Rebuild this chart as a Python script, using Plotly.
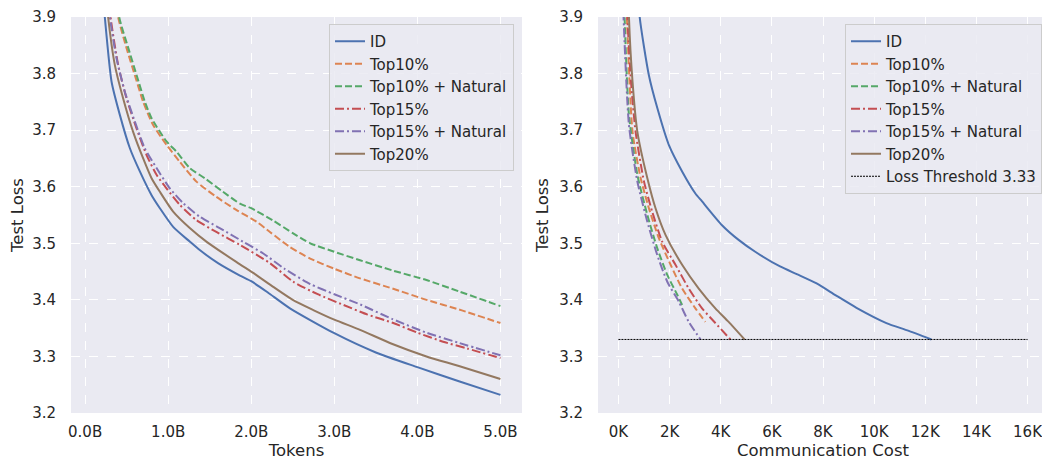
import plotly.graph_objects as go

# ---------------- data: left panel (loss vs tokens, B) ----------------
names = ["ID", "Top10%", "Top10% + Natural", "Top15%", "Top15% + Natural", "Top20%"]

id_tok_x = [0.19, 0.237, 0.318, 0.418, 0.539, 0.659, 0.80, 0.90, 1.06, 1.26, 1.38, 1.60, 1.864, 2.0, 2.2, 2.466, 3.0, 3.5, 4.0, 4.5, 5.0]
id_tok_y = [3.98, 3.90, 3.786, 3.727, 3.668, 3.627, 3.585, 3.562, 3.529, 3.503, 3.488, 3.465, 3.443, 3.433, 3.413, 3.385, 3.341, 3.307, 3.281, 3.256, 3.232]

t10_tok_x = [0.36, 0.398, 0.499, 0.599, 0.699, 0.819, 0.98, 1.14, 1.34, 1.58, 1.82, 2.065, 2.225, 2.45, 2.71, 3.0, 3.31, 3.7, 4.11, 4.5, 5.0]
t10_tok_y = [3.97, 3.90, 3.845, 3.797, 3.750, 3.709, 3.674, 3.644, 3.609, 3.582, 3.559, 3.538, 3.520, 3.495, 3.473, 3.455, 3.438, 3.420, 3.400, 3.383, 3.359]

t10n_tok_x = [0.37, 0.41, 0.52, 0.62, 0.72, 0.80, 0.98, 1.10, 1.26, 1.44, 1.66, 1.864, 2.0, 2.265, 2.5, 2.71, 3.0, 3.31, 3.7, 4.11, 4.5, 5.0]
t10n_tok_y = [3.97, 3.90, 3.845, 3.797, 3.750, 3.721, 3.680, 3.662, 3.633, 3.615, 3.591, 3.570, 3.562, 3.540, 3.518, 3.500, 3.485, 3.470, 3.452, 3.435, 3.415, 3.389]

t15_tok_x = [0.26, 0.306, 0.398, 0.499, 0.619, 0.74, 0.86, 0.98, 1.14, 1.34, 1.58, 1.864, 2.225, 2.506, 2.8, 3.11, 3.4, 3.71, 4.0, 4.31, 4.6, 5.0]
t15_tok_y = [3.98, 3.90, 3.815, 3.756, 3.703, 3.656, 3.621, 3.597, 3.568, 3.541, 3.520, 3.497, 3.465, 3.432, 3.410, 3.391, 3.374, 3.359, 3.342, 3.326, 3.314, 3.297]

t15n_tok_x = [0.25, 0.298, 0.378, 0.478, 0.599, 0.719, 0.86, 1.02, 1.18, 1.38, 1.62, 1.90, 2.145, 2.4, 2.71, 3.0, 3.31, 3.7, 4.11, 4.5, 5.0]
t15n_tok_y = [3.98, 3.90, 3.827, 3.768, 3.715, 3.668, 3.633, 3.597, 3.571, 3.547, 3.527, 3.503, 3.482, 3.455, 3.428, 3.410, 3.392, 3.366, 3.342, 3.324, 3.302]

t20_tok_x = [0.23, 0.277, 0.358, 0.458, 0.578, 0.699, 0.80, 0.90, 1.06, 1.26, 1.46, 1.82, 2.05, 2.265, 2.5, 2.747, 3.0, 3.31, 3.7, 4.11, 4.5, 5.0]
t20_tok_y = [3.98, 3.90, 3.815, 3.756, 3.697, 3.650, 3.615, 3.591, 3.556, 3.527, 3.503, 3.467, 3.445, 3.423, 3.400, 3.382, 3.365, 3.347, 3.322, 3.300, 3.283, 3.260]

# ---------------- data: right panel (loss vs communication cost, K) ----------------
id_cc_x = [0.74, 0.83, 1.19, 1.52, 1.97, 2.49, 3.01, 3.27, 4.05, 4.70, 5.35, 6.32, 7.0, 7.75, 8.5, 9.31, 10.48, 11.3, 12.24]
id_cc_y = [3.98, 3.90, 3.797, 3.739, 3.674, 3.627, 3.588, 3.574, 3.532, 3.506, 3.485, 3.459, 3.445, 3.429, 3.408, 3.386, 3.359, 3.346, 3.33]

t10_cc_x = [0.30, 0.33, 0.55, 0.87, 1.19, 1.58, 2.04, 2.49, 3.01, 3.40]
t10_cc_y = [3.97, 3.90, 3.697, 3.615, 3.562, 3.509, 3.462, 3.420, 3.385, 3.361]

t10n_cc_x = [0.21, 0.24, 0.41, 0.74, 1.13, 1.52, 1.91, 2.30, 2.49]
t10n_cc_y = [3.97, 3.90, 3.727, 3.621, 3.550, 3.491, 3.444, 3.409, 3.391]

t15_cc_x = [0.32, 0.35, 0.49, 0.67, 1.0, 1.32, 1.71, 2.23, 2.75, 3.27, 3.79, 4.38]
t15_cc_y = [3.97, 3.90, 3.786, 3.697, 3.609, 3.556, 3.503, 3.462, 3.420, 3.385, 3.359, 3.33]

t15n_cc_x = [0.17, 0.20, 0.41, 0.74, 1.13, 1.52, 1.91, 2.36, 2.75, 3.21]
t15n_cc_y = [3.97, 3.90, 3.709, 3.609, 3.538, 3.479, 3.432, 3.397, 3.361, 3.33]

t20_cc_x = [0.38, 0.41, 0.55, 0.74, 1.13, 1.45, 1.84, 2.49, 3.14, 3.79, 4.31, 4.93]
t20_cc_y = [3.97, 3.90, 3.786, 3.697, 3.615, 3.562, 3.515, 3.462, 3.420, 3.385, 3.361, 3.33]

threshold_x = [0, 16]
threshold_y = [3.33, 3.33]
threshold_name = "Loss Threshold 3.33"

x_tok_ticks = [0, 1, 2, 3, 4, 5]
x_tok_labels = ["0.0B", "1.0B", "2.0B", "3.0B", "4.0B", "5.0B"]
x_cc_ticks = [0, 2, 4, 6, 8, 10, 12, 14, 16]
x_cc_labels = ["0K", "2K", "4K", "6K", "8K", "10K", "12K", "14K", "16K"]
y_ticks = [3.2, 3.3, 3.4, 3.5, 3.6, 3.7, 3.8, 3.9]
y_labels = ["3.2", "3.3", "3.4", "3.5", "3.6", "3.7", "3.8", "3.9"]

# ---------------- styles ----------------
colors = ["#4C72B0", "#DD8452", "#55A868", "#C44E52", "#8172B3", "#937860"]
DASH = "7px,3px"
DASHDOT = "9px,3px,2px,3px"
dashes = ["solid", DASH, DASH, DASHDOT, DASHDOT, "solid"]

left = [(id_tok_x, id_tok_y), (t10_tok_x, t10_tok_y), (t10n_tok_x, t10n_tok_y),
        (t15_tok_x, t15_tok_y), (t15n_tok_x, t15n_tok_y), (t20_tok_x, t20_tok_y)]
right = [(id_cc_x, id_cc_y), (t10_cc_x, t10_cc_y), (t10n_cc_x, t10n_cc_y),
         (t15_cc_x, t15_cc_y), (t15n_cc_x, t15n_cc_y), (t20_cc_x, t20_cc_y)]

fig = go.Figure()
for i, (xs, ys) in enumerate(left):
    fig.add_trace(go.Scatter(x=xs, y=ys, mode="lines", name=names[i],
                             line=dict(color=colors[i], width=2, dash=dashes[i],
                                       shape="spline", smoothing=0.6),
                             xaxis="x", yaxis="y", legend="legend"))
for i, (xs, ys) in enumerate(right):
    fig.add_trace(go.Scatter(x=xs, y=ys, mode="lines", name=names[i],
                             line=dict(color=colors[i], width=2, dash=dashes[i],
                                       shape="spline", smoothing=0.6),
                             xaxis="x2", yaxis="y2", legend="legend2"))
fig.add_trace(go.Scatter(x=threshold_x, y=threshold_y, mode="lines", name=threshold_name,
                         line=dict(color="black", width=1, dash="2px,1px"),
                         xaxis="x2", yaxis="y2", legend="legend2"))

FONT = "DejaVu Sans"
TXT = "#262626"
axis_common = dict(showgrid=True, gridcolor="white", griddash="dash", gridwidth=1,
                   zeroline=False, showline=False, ticks="", automargin=False,
                   tickfont=dict(family=FONT, size=15, color=TXT))
title_font = dict(family=FONT, size=16.5, color=TXT)

legend_common = dict(bgcolor="rgba(234,234,242,0.85)", bordercolor="#CCCCCC", borderwidth=1,
                     font=dict(family=FONT, size=15, color=TXT), itemwidth=30,
                     xanchor="right", yanchor="top", tracegroupgap=0)

# page body has an 8px margin: figure is drawn 8px right/down in the window
W, H = 1042, 455

fig.update_layout(
    width=W, height=H,
    margin=dict(l=0, r=0, t=0, b=0, autoexpand=False),
    paper_bgcolor="white", plot_bgcolor="#EAEAF2",
    showlegend=True,
    xaxis=dict(domain=[63 / W, 514 / W], range=[-0.17, 5.26], tickvals=x_tok_ticks,
               ticktext=x_tok_labels, anchor="y", ticklabelstandoff=8,
               title=dict(text="Tokens", font=title_font, standoff=1), **axis_common),
    yaxis=dict(domain=[1 - 405 / H, 1 - 9 / H], range=[3.2, 3.9], tickvals=y_ticks, ticktext=y_labels,
               anchor="x", ticklabelstandoff=14,
               title=dict(text="Test Loss", font=title_font, standoff=6), **axis_common),
    xaxis2=dict(domain=[590 / W, 1040 / W], range=[-0.8, 16.8], tickvals=x_cc_ticks,
                ticktext=x_cc_labels, anchor="y2", ticklabelstandoff=8,
                title=dict(text="Communication Cost", font=title_font, standoff=1), **axis_common),
    yaxis2=dict(domain=[1 - 405 / H, 1 - 9 / H], range=[3.2, 3.9], tickvals=y_ticks, ticktext=y_labels,
                anchor="x2", ticklabelstandoff=14,
                title=dict(text="Test Loss", font=title_font, standoff=6), **axis_common),
    legend=dict(x=506 / W, y=1 - 16 / H, **legend_common),
    legend2=dict(x=1034 / W, y=1 - 16 / H, **legend_common),
)

fig.write_html("out.html")
